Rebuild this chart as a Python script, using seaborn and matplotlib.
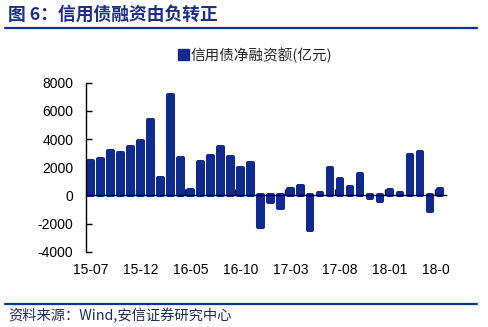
import matplotlib
matplotlib.use("Agg")
import matplotlib.pyplot as plt
import seaborn as sns
import pandas as pd
from matplotlib.lines import Line2D
from matplotlib.patches import Patch
from matplotlib.transforms import Bbox, TransformedBbox

# ---- data ----
months = [f"{y % 100:02d}-{m:02d}" for y, m in
          [(2015, m) for m in range(7, 13)] + [(2016, m) for m in range(1, 13)] +
          [(2017, m) for m in range(1, 13)] + [(2018, m) for m in range(1, 7)]]
values = [2440, 2560, 3150, 3010, 3410, 3840, 5380, 1260, 7130, 2630,
          380, 2370, 2800, 3410, 2700, 1920, 2300, -2270, -500, -880,
          430, 640, -2490, 170, 1940, 1160, 570, 1540, -170, -380,
          380, 170, 2890, 3080, -1090, 450]
series_label = "信用债净融资额(亿元)"
title_text = "图 6：信用债融资由负转正"
source_text = "资料来源：Wind,安信证券研究中心"
yticks = [-4000, -2000, 0, 2000, 4000, 6000, 8000]

BAR = "#10298C"
NAVY = "#0A3590"

sns.set_theme(style="white")
plt.rcParams["font.family"] = ["Liberation Sans", "Noto Sans CJK SC", "DejaVu Sans"]

fig = plt.figure(figsize=(4.88, 3.27), dpi=100)
ax = fig.add_axes([0.1756, 0.2303, 0.9139 - 0.1756, 0.7471 - 0.2303])

df = pd.DataFrame({"month": months, "value": values})
sns.barplot(data=df, x="month", y="value", color=BAR, saturation=1, width=0.45,
            edgecolor=BAR, linewidth=2.9, ax=ax)
for p in ax.patches:
    p.set_joinstyle("round")

ax.set_xlim(-0.5, 35.6)
ax.set_ylim(-4000, 8000)
ax.set_xlabel("")
ax.set_ylabel("")

# spines
for s in ["top", "right"]:
    ax.spines[s].set_visible(False)
ax.spines["left"].set_color("black")
ax.spines["left"].set_linewidth(1.0)
ax.spines["bottom"].set_position(("data", 0))
ax.spines["bottom"].set_color("black")
ax.spines["bottom"].set_linewidth(1.0)
ax.spines["bottom"].set_zorder(5)

ax.set_yticks(yticks)
ax.set_yticklabels([str(v) for v in yticks])
ax.tick_params(axis="y", direction="in", length=4, width=1, color="black",
               labelsize=10, pad=9, left=True, labelcolor="black")

idx = list(range(0, len(months), 5))
ax.set_xticks(idx)
ax.set_xticklabels([months[i] for i in idx])
ax.tick_params(axis="x", which="major", length=0, labelsize=10, pad=49,
               labelcolor="black")
ax.set_xticks([i - 0.5 for i in idx[1:]], minor=True)
ax.tick_params(axis="x", which="minor", direction="in", length=4, width=1,
               color="black", bottom=True)

# clip last label as in reference
clipbox = TransformedBbox(Bbox([[0, 0], [449 / 488, 1]]), fig.transFigure)
last = ax.get_xticklabels()[-1]
last.set_clip_on(True)
last.set_clip_box(clipbox)

ax.grid(False)

# legend
handle = Patch(facecolor=BAR, edgecolor=BAR)
fig.legend([handle], [series_label], loc="center", bbox_to_anchor=(255 / 488, 1 - 55 / 327),
           frameon=False, handlelength=0.75, handleheight=0.75, handletextpad=0.15,
           prop={"family": ["Noto Sans CJK SC"], "size": 10.5})

# title and rules
fig.text(8 / 488, 1 - 15 / 327, title_text, ha="left", va="center", fontsize=12.8,
         fontweight="bold", color="#1B2F86", family=["Noto Sans CJK SC", "DejaVu Sans"])
fig.add_artist(Line2D([5 / 488, 477 / 488], [1 - 28 / 327, 1 - 28 / 327],
                      color=NAVY, linewidth=1.6, transform=fig.transFigure))
fig.add_artist(Line2D([5 / 488, 477 / 488], [1 - 304 / 327, 1 - 304 / 327],
                      color=NAVY, linewidth=1.6, transform=fig.transFigure))
fig.text(8 / 488, 1 - 316 / 327, source_text, ha="left", va="center", fontsize=10.3,
         color="#1F2D5C", style="italic", family=["Noto Sans CJK SC", "DejaVu Sans"])

fig.savefig("out.png", dpi=100)
